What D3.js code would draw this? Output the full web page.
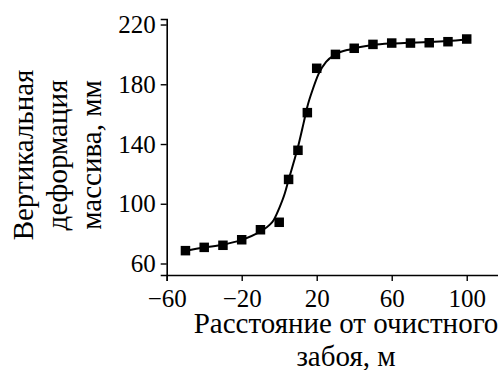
<!DOCTYPE html>
<html>
<head>
<meta charset="utf-8">
<script src="https://cdn.jsdelivr.net/npm/d3@7"></script>
<style>
  body { margin: 0; background: #fff; }
  svg { display: block; }
  text { font-family: "Liberation Serif", "Times New Roman", serif; fill: #000; }
</style>
</head>
<body>
<svg id="chart" width="498" height="370"></svg>
<script>
// measured points
var distX = [-50, -40, -30, -20, -10, 0, 5, 10, 15, 20, 30, 40, 50, 60, 70, 80, 90, 100];
var deformY = [68.6, 70.8, 72.2, 75.9, 82.6, 87.6, 116.3, 135.8, 161, 190.7, 200, 204.1, 206.7, 207.6, 207.6, 207.8, 208.5, 210.3];

// fitted curve
var fitX = [-50, -40, -30, -20, -10, -5, -3, 0, 3, 5, 8, 10, 13, 15, 18, 21, 25, 30, 38, 50, 60, 70, 80, 90, 100];
var fitY = [68.5, 70.7, 72.6, 75.8, 81.5, 86, 89, 97, 107, 116, 129, 138, 154, 165, 177, 187, 195, 200, 203.5, 206.3, 207.3, 207.8, 208.3, 209, 210];

var xTicks = [-60, -20, 20, 60, 100];
var yTicks = [60, 100, 140, 180, 220];

var svg = d3.select('#chart');

var x = d3.scaleLinear().domain([-60, 117]).range([166.7, 498.6]);
var y = d3.scaleLinear().domain([52.3, 223.7]).range([275, 19]);

var fmt = function(d){ return d < 0 ? '\u2212' + Math.abs(d) : '' + d; };

var gx = svg.append('g')
  .attr('transform', 'translate(0,275)')
  .call(d3.axisBottom(x).tickValues(xTicks).tickFormat(fmt).tickSizeOuter(0).tickSize(6).tickPadding(8));
var gy = svg.append('g')
  .attr('transform', 'translate(166.7,0)')
  .call(d3.axisLeft(y).tickValues(yTicks).tickFormat(fmt).tickSizeOuter(0).tickSize(6).tickPadding(5));

[gx, gy].forEach(function(g){
  g.selectAll('path.domain').attr('stroke', '#000').attr('stroke-width', 1.6);
  g.selectAll('.tick line').attr('stroke', '#000').attr('stroke-width', 1.4);
  g.selectAll('.tick text').style('font-size', '25px').attr('fill', '#000');
});

var line = d3.line()
  .x(function(d, i){ return x(fitX[i]); })
  .y(function(d, i){ return y(fitY[i]); })
  .curve(d3.curveMonotoneX);

svg.append('path')
  .datum(fitX)
  .attr('d', line)
  .attr('fill', 'none')
  .attr('stroke', '#000')
  .attr('stroke-width', 2);

var sz = 9.5;
svg.selectAll('rect.pt')
  .data(distX)
  .enter().append('rect')
  .attr('class', 'pt')
  .attr('x', function(d){ return x(d) - sz/2; })
  .attr('y', function(d, i){ return y(deformY[i]) - sz/2; })
  .attr('width', sz)
  .attr('height', sz)
  .attr('fill', '#000');

// axis titles
var xt = svg.append('text').style('font-size', '29px').attr('text-anchor', 'middle');
xt.append('tspan').attr('x', 346).attr('y', 333).text('Расстояние от очистного');
xt.append('tspan').attr('x', 346).attr('y', 366).text('забоя, м');

var ylines = ['Вертикальная', 'деформация', 'массива, мм'];
var ybase = [33, 67, 101];
ylines.forEach(function(t, i){
  svg.append('text')
    .attr('transform', 'translate(' + ybase[i] + ',155) rotate(-90)')
    .attr('text-anchor', 'middle')
    .style('font-size', '29px')
    .text(t);
});
</script>
</body>
</html>
